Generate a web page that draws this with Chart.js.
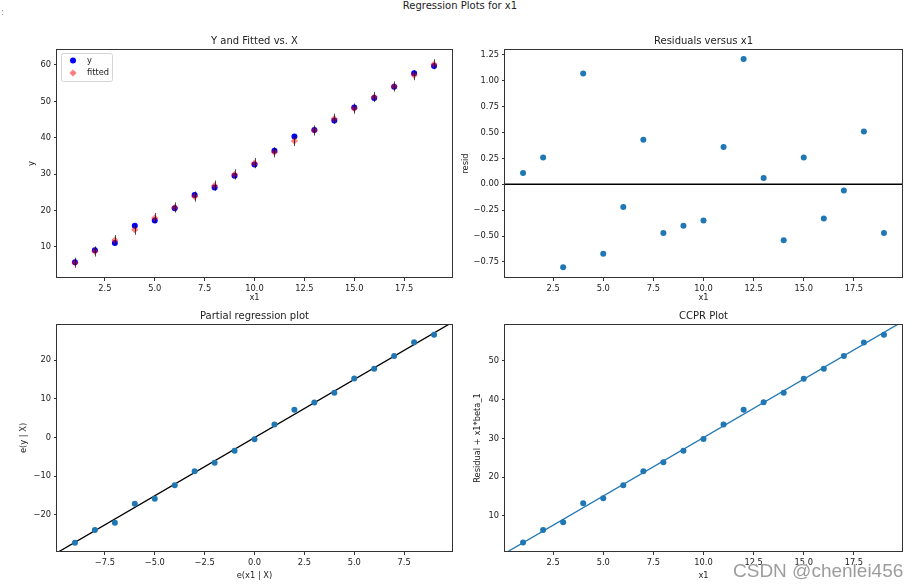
<!DOCTYPE html>
<html>
<head>
<meta charset="utf-8">
<script src="https://cdn.jsdelivr.net/npm/chart.js@4.4.0/dist/chart.umd.min.js"></script>
<style>
  body { margin: 0; background: #fff; }
  #fig { position: relative; width: 920px; height: 588px; overflow: hidden; font-family: "DejaVu Sans"; }
  canvas { position: absolute; }
  .sup { position: absolute; left: 0; top: 0; width: 920px; text-align: center; font-size: 10px; line-height: 12px; color: #222; }
  .dots { position: absolute; left: 1px; top: 7px; font-size: 9px; line-height: 10px; color: #888; }
  .wm { position: absolute; left: 733px; top: 561px; font-family: "Liberation Sans"; font-size: 19px; line-height: 19px;
        color: rgba(140, 140, 140, 0.85); text-shadow: 0 0 1px #fff, 0 0 1px #fff; white-space: nowrap; }
</style>
</head>
<body>
<div id="fig">
  <div class="dots">:</div>
  <div class="sup">Regression Plots for x1</div>
  <canvas id="fit" width="460" height="275" style="left:0;top:30px"></canvas>
  <canvas id="resid" width="460" height="275" style="left:460px;top:30px"></canvas>
  <canvas id="partreg" width="460" height="288" style="left:0;top:300px"></canvas>
  <canvas id="ccpr" width="460" height="288" style="left:460px;top:300px"></canvas>
  <div class="wm">CSDN @chenlei456</div>
</div>
<script>
// values
const x1 = [1, 2, 3, 4, 5, 6, 7, 8, 9, 10, 11, 12, 13, 14, 15, 16, 17, 18, 19];
const yObs = [5.7, 9.0, 11.0, 15.8, 17.2, 20.6, 24.2, 26.3, 29.5, 32.6, 36.4, 40.3, 42.1, 44.7, 48.3, 50.9, 54.0, 57.7, 59.7];
const yFitted = [5.6, 8.7, 11.8, 14.7, 17.9, 20.8, 23.8, 26.8, 29.9, 33.0, 36.0, 39.1, 42.0, 45.2, 48.0, 51.2, 54.1, 57.2, 60.2];
const predLow = [4.2, 7.3, 10.4, 13.3, 16.5, 19.4, 22.4, 25.4, 28.5, 31.6, 34.6, 37.7, 40.6, 43.8, 46.6, 49.8, 52.7, 55.8, 58.8];
const predHigh = [7.0, 10.1, 13.2, 16.1, 19.3, 22.2, 25.2, 28.2, 31.3, 34.4, 37.4, 40.5, 43.4, 46.6, 49.4, 52.6, 55.5, 58.6, 61.6];
const resid = [0.11, 0.26, -0.80, 1.07, -0.67, -0.22, 0.43, -0.47, -0.40, -0.35, 0.36, 1.21, 0.06, -0.54, 0.26, -0.33, -0.06, 0.51, -0.47];
const ex1 = [-9, -8, -7, -6, -5, -4, -3, -2, -1, 0, 1, 2, 3, 4, 5, 6, 7, 8, 9];
const ey = [-27.2, -23.9, -22.0, -17.1, -15.8, -12.3, -8.7, -6.5, -3.4, -0.4, 3.4, 7.2, 9.1, 11.6, 15.3, 17.8, 21.1, 24.7, 26.6];
const ccpr = [3.1, 6.3, 8.3, 13.2, 14.5, 17.9, 21.5, 23.8, 26.8, 29.8, 33.6, 37.4, 39.3, 41.8, 45.4, 48.0, 51.3, 54.8, 56.8];
const partSlope = 3.01;
const partIntercept = 0;
const beta1 = 3.02;

// tick labels
const xTicksX1 = [2.5, 5, 7.5, 10, 12.5, 15, 17.5];
const yTicksFit = [10, 20, 30, 40, 50, 60];
const yTicksResid = [-0.75, -0.5, -0.25, 0, 0.25, 0.5, 0.75, 1, 1.25];
const xTicksPart = [-7.5, -5, -2.5, 0, 2.5, 5, 7.5];
const yTicksPart = [-20, -10, 0, 10, 20];
const yTicksCcpr = [10, 20, 30, 40, 50];

const FONT = 'DejaVu Sans';
const TEXT = '#222';
const AXIS = '#333';
const C0 = '#1f77b4';

const zip = (xs, ys) => xs.map((x, i) => ({ x: x, y: ys[i] }));
const fmt = (v, d) => v.toFixed(d).replace('-', '\u2212');

// box around the plot area, like matplotlib spines
const frame = {
  id: 'frame',
  afterDatasetsDraw(chart) {
    const { ctx, chartArea: a } = chart;
    ctx.save();
    ctx.strokeStyle = AXIS;
    ctx.lineWidth = 1;
    ctx.strokeRect(Math.round(a.left) - 0.5, Math.round(a.top) + 0.5,
                   Math.round(a.right - a.left) + 1, Math.round(a.bottom - a.top) - 1);
    ctx.restore();
  }
};

// prediction interval lines on the fit plot
const vlines = {
  id: 'vlines',
  afterDatasetsDraw(chart) {
    const { ctx, scales: { x, y } } = chart;
    ctx.save();
    ctx.strokeStyle = 'rgba(0,0,0,0.7)';
    ctx.lineWidth = 1;
    x1.forEach((v, i) => {
      const px = Math.round(x.getPixelForValue(v)) + 0.5;
      ctx.beginPath();
      ctx.moveTo(px, y.getPixelForValue(predLow[i]));
      ctx.lineTo(px, y.getPixelForValue(predHigh[i]));
      ctx.stroke();
    });
    ctx.restore();
  }
};

// legend box in the upper left corner of the fit plot
const boxLegend = {
  id: 'boxLegend',
  afterDraw(chart) {
    const { ctx, chartArea: a } = chart;
    const left = a.left + 4, top = a.top + 4, w = 51, h = 28;
    ctx.save();
    ctx.fillStyle = 'rgba(255,255,255,0.8)';
    ctx.strokeStyle = '#d4d4d4';
    ctx.lineWidth = 1;
    ctx.beginPath();
    ctx.roundRect(left + 0.5, top + 0.5, w, h, 2);
    ctx.fill();
    ctx.stroke();
    ctx.font = '8.3px "' + FONT + '"';
    ctx.textBaseline = 'middle';
    chart.data.datasets.forEach((ds, i) => {
      const cy = top + 7.5 + i * 12.5;
      ctx.fillStyle = ds.backgroundColor;
      Chart.helpers.drawPoint(ctx, { pointStyle: ds.pointStyle, radius: ds.pointRadius, borderWidth: 0 }, left + 12, cy);
      ctx.fillStyle = TEXT;
      ctx.fillText(ds.label, left + 26, cy);
    });
    ctx.restore();
  }
};

function options(o) {
  const tickFont = { family: FONT, size: 8.3 };
  return {
    animation: false,
    responsive: false,
    layout: { padding: { left: 0, top: o.area[1] - o.cy - 14, right: o.cx + o.cw - o.area[2], bottom: 0 } },
    plugins: {
      legend: { display: false },
      tooltip: { enabled: false },
      title: {
        display: true, text: o.title, fullSize: false, color: TEXT,
        font: { family: FONT, size: 10, weight: 'normal' }, padding: { top: 0, bottom: 2 }
      }
    },
    scales: {
      x: {
        type: 'linear', position: 'bottom', min: o.xMin, max: o.xMax,
        afterBuildTicks: s => { s.ticks = o.xTicks.map(v => ({ value: v })); },
        afterFit: s => { s.height = o.cy + o.ch - o.area[3]; },
        ticks: { callback: v => fmt(v, o.xDec), color: TEXT, font: tickFont, padding: 2.5, maxRotation: 0, autoSkip: false },
        grid: { display: true, drawOnChartArea: false, drawTicks: true, tickLength: 3, tickColor: AXIS },
        border: { display: false },
        title: { display: true, text: o.xLabel, color: TEXT, font: tickFont, padding: { top: 0, bottom: o.xTitlePad } }
      },
      y: {
        type: 'linear', position: 'left', min: o.yMin, max: o.yMax,
        afterBuildTicks: s => { s.ticks = o.yTicks.map(v => ({ value: v })); },
        afterFit: s => { s.width = o.area[0] - o.cx; },
        ticks: { callback: v => fmt(v, o.yDec), color: TEXT, font: tickFont, padding: 3, autoSkip: false },
        grid: { display: true, drawOnChartArea: false, drawTicks: true, tickLength: 3, tickColor: AXIS },
        border: { display: false },
        title: { display: true, text: o.yLabel, color: TEXT, font: tickFont, padding: { top: o.yTitlePad, bottom: 0 } }
      }
    }
  };
}

// Y and Fitted vs. X
new Chart(document.getElementById('fit'), {
  type: 'scatter',
  data: {
    datasets: [
      { label: 'y', data: zip(x1, yObs), backgroundColor: '#0000ff', pointStyle: 'circle', pointRadius: 3, borderWidth: 0, order: 2 },
      { label: 'fitted', data: zip(x1, yFitted), backgroundColor: 'rgba(255,0,0,0.5)', pointStyle: 'rectRot', pointRadius: 3.6, borderWidth: 0, order: 1 }
    ]
  },
  options: options({
    cx: 0, cy: 30, cw: 460, ch: 275, area: [57, 49, 452, 278],
    title: 'Y and Fitted vs. X', xLabel: 'x1', yLabel: 'y',
    xMin: 0.1, xMax: 19.9, yMin: 1.4, yMax: 64.4,
    xTicks: xTicksX1, yTicks: yTicksFit, xDec: 1, yDec: 0, xTitlePad: 2, yTitlePad: 26.5
  }),
  plugins: [vlines, frame, boxLegend]
});

// Residuals versus x1
new Chart(document.getElementById('resid'), {
  type: 'scatter',
  data: {
    datasets: [
      { data: zip(x1, resid), backgroundColor: C0, pointRadius: 3, borderWidth: 0 },
      { type: 'line', data: [{ x: 0.1, y: 0 }, { x: 19.9, y: 0 }], borderColor: '#000', borderWidth: 1.6, pointRadius: 0, showLine: true }
    ]
  },
  options: options({
    cx: 460, cy: 30, cw: 460, ch: 275, area: [505, 49, 902, 278],
    title: 'Residuals versus x1', xLabel: 'x1', yLabel: 'resid',
    xMin: 0.1, xMax: 19.9, yMin: -0.905, yMax: 1.307,
    xTicks: xTicksX1, yTicks: yTicksResid, xDec: 1, yDec: 2, xTitlePad: 2, yTitlePad: 0.5
  }),
  plugins: [frame]
});

// Partial regression plot
const partX = [-9.9, 9.9];
new Chart(document.getElementById('partreg'), {
  type: 'scatter',
  data: {
    datasets: [
      { data: zip(ex1, ey), backgroundColor: C0, pointRadius: 3, borderWidth: 0 },
      { type: 'line', data: partX.map(x => ({ x: x, y: partIntercept + partSlope * x })), borderColor: '#000', borderWidth: 1.3, pointRadius: 0, showLine: true }
    ]
  },
  options: options({
    cx: 0, cy: 300, cw: 460, ch: 288, area: [57, 324, 452, 552],
    title: 'Partial regression plot', xLabel: 'e(x1 | X)', yLabel: 'e(y | X)',
    xMin: -9.9, xMax: 9.9, yMin: -29.6, yMax: 29.4,
    xTicks: xTicksPart, yTicks: yTicksPart, xDec: 1, yDec: 0, xTitlePad: 7, yTitlePad: 19
  }),
  plugins: [frame]
});

// CCPR Plot
const ccprX = [0.1, 19.9];
new Chart(document.getElementById('ccpr'), {
  type: 'scatter',
  data: {
    datasets: [
      { data: zip(x1, ccpr), backgroundColor: C0, pointRadius: 3, borderWidth: 0 },
      { type: 'line', data: ccprX.map(x => ({ x: x, y: beta1 * x })), borderColor: C0, borderWidth: 1.3, pointRadius: 0, showLine: true }
    ]
  },
  options: options({
    cx: 460, cy: 300, cw: 460, ch: 288, area: [505, 324, 902, 552],
    title: 'CCPR Plot', xLabel: 'x1', yLabel: 'Residual + x1*beta_1',
    xMin: 0.1, xMax: 19.9, yMin: 0.63, yMax: 59.55,
    xTicks: xTicksX1, yTicks: yTicksCcpr, xDec: 1, yDec: 0, xTitlePad: 7, yTitlePad: 13.3
  }),
  plugins: [frame]
});
</script>
</body>
</html>
